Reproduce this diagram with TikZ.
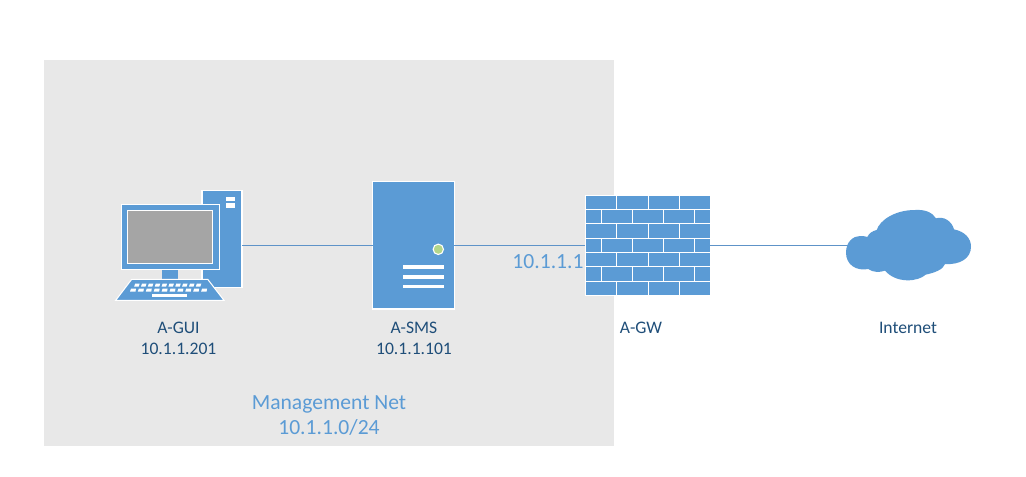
\documentclass[tikz,border=0pt]{standalone}
\usepackage{fontspec}
\setmainfont{Carlito}
\definecolor{iconblue}{HTML}{5B9BD5}
\definecolor{zonegrey}{HTML}{E8E8E8}
\definecolor{screengrey}{HTML}{A5A5A5}
\definecolor{ledgreen}{HTML}{B3D68A}
\definecolor{labelnavy}{HTML}{1F4E79}
\definecolor{wireblue}{HTML}{5E93C8}
\tikzset{
  iconbox/.style={draw=white,line width=0.9pt,fill=iconblue,inner sep=0pt,outer sep=0pt},
  whitebar/.style={fill=white,draw=none},
  wire/.style={draw=wireblue,line width=0.75pt},
  devlabel/.style={text=labelnavy,font=\fontsize{13.2}{15.75}\selectfont,align=center,inner sep=0pt},
  netlabel/.style={text=iconblue,font=\fontsize{16.2}{18.75}\selectfont,align=center,inner sep=0pt},
  brickline/.style={draw=white,line width=0.7pt},
  cloudpart/.style={fill=iconblue,draw=none}
}
\begin{document}
\begin{tikzpicture}[x=0.75pt,y=-0.75pt]
\useasboundingbox (0,0) rectangle (1026,476);
\fill[white] (0,0) rectangle (1026,476);
\fill[zonegrey] (44,60) rectangle (614,446);
% anchors
\coordinate (lane) at (0,245.5);
\node[iconbox,minimum width=30pt,minimum height=72.5pt] (towerbox) at (222,239) {};
\node[iconbox,minimum width=61.2pt,minimum height=95.5pt] (server) at (413.5,245.3) {};
\node[iconbox,minimum width=93.75pt,minimum height=75pt] (fw) at (647.8,245.3) {};
\node[minimum width=92pt,minimum height=40pt,inner sep=0pt,outer sep=0pt] (cloud) at (909.5,245) {};
% connectors
\draw[wire] (towerbox.east|-lane) -- (server.west|-lane);
\draw[wire] (server.east|-lane) -- (fw.west|-lane);
\draw[wire] (fw.east|-lane) -- (cloud.west|-lane);
% tower slots
\fill[whitebar] (226,197.3) rectangle (235,200.7);
\fill[whitebar] (226,203.3) rectangle (235,207.5);
% monitor
\node[iconbox,minimum width=73.5pt,minimum height=48.75pt] (monitor) at (170.3,236.8) {};
\node[draw=white,line width=0.9pt,fill=screengrey,inner sep=0pt,minimum width=63.75pt,minimum height=39.75pt] (screen) at (170,237) {};
\fill[iconblue] (162,269.6) rectangle (178.3,279);
% keyboard
\filldraw[fill=iconblue,draw=white,line width=0.8pt] (131.7,279.3) -- (207.7,279.3) -- (224,300.3) -- (115.7,300.3) -- cycle;
\foreach \i in {0,...,9}{
  \pgfmathsetmacro{\xa}{135.2+\i*6.85}
  \fill[whitebar] (\xa,283.5) -- (\xa+4.5,283.5) -- (\xa+3.5,286.5) -- (\xa-1,286.5) -- cycle;
}
\foreach \i in {0,...,9}{
  \pgfmathsetmacro{\xa}{131+\i*7.9}
  \fill[whitebar] (\xa,288.5) -- (\xa+5,288.5) -- (\xa+4.5,291.5) -- (\xa-1,291.5) -- cycle;
}
\fill[whitebar] (151.7,293.7) rectangle (187.3,296.9);
% server details
\filldraw[fill=ledgreen,draw=white,line width=0.8pt] (438.3,249.3) circle (5.2);
\foreach \yy in {267,277,286.5}{
  \fill[whitebar] (403.3,\yy-1.6) rectangle (443.7,\yy+1.6);
}
% firewall bricks
\foreach \r in {1,...,6}{
  \draw[brickline] (585.3,195.3+\r*14.29) -- (710.3,195.3+\r*14.29);
}
\foreach \r in {0,2,4,6}{
  \foreach \xx in {616.3,648.3,679.3}{
    \draw[brickline] (\xx,195.3+\r*14.29) -- (\xx,195.3+\r*14.29+14.29);
  }
}
\foreach \r in {1,3,5}{
  \foreach \xx in {601.3,632.3,663.3,694.3}{
    \draw[brickline] (\xx,195.3+\r*14.29) -- (\xx,195.3+\r*14.29+14.29);
  }
}
% cloud outline, traced in thirds of a pixel from (835,200)
\begin{scope}[shift={(835,200)},x=0.25pt,y=-0.25pt]
\fill[cloudpart] (33,158)
  .. controls (33,125) and (55,108) .. (75,108)
  .. controls (85,108) and (92,109) .. (97,111)
  .. controls (102,100) and (112,93) .. (125,90)
  .. controls (135,60) and (180,30) .. (240,30)
  .. controls (272,28) and (292,38) .. (303,55)
  .. controls (325,48) and (350,62) .. (357,88)
  .. controls (390,95) and (408,115) .. (408,140)
  .. controls (408,175) and (375,195) .. (330,192)
  .. controls (325,208) and (300,218) .. (272,224)
  .. controls (250,245) and (185,252) .. (150,212)
  .. controls (135,218) and (112,217) .. (100,207)
  .. controls (65,214) and (33,195) .. (33,158) -- cycle;
\end{scope}
% labels
\node[devlabel] (guilab) at (178.5,338) {A-GUI\\10.1.1.201};
\node[devlabel] (smslab) at (414,338) {A-SMS\\10.1.1.101};
\node[devlabel] (gwlab) at (641,327.7) {A-GW};
\node[devlabel] (netlab) at (908,327.7) {Internet};
\node[netlabel] (iflab) at (548,261.5) {10.1.1.1};
\node[netlabel] (zonelab) at (329,415.2) {Management Net\\10.1.1.0/24};
\end{tikzpicture}
\end{document}
